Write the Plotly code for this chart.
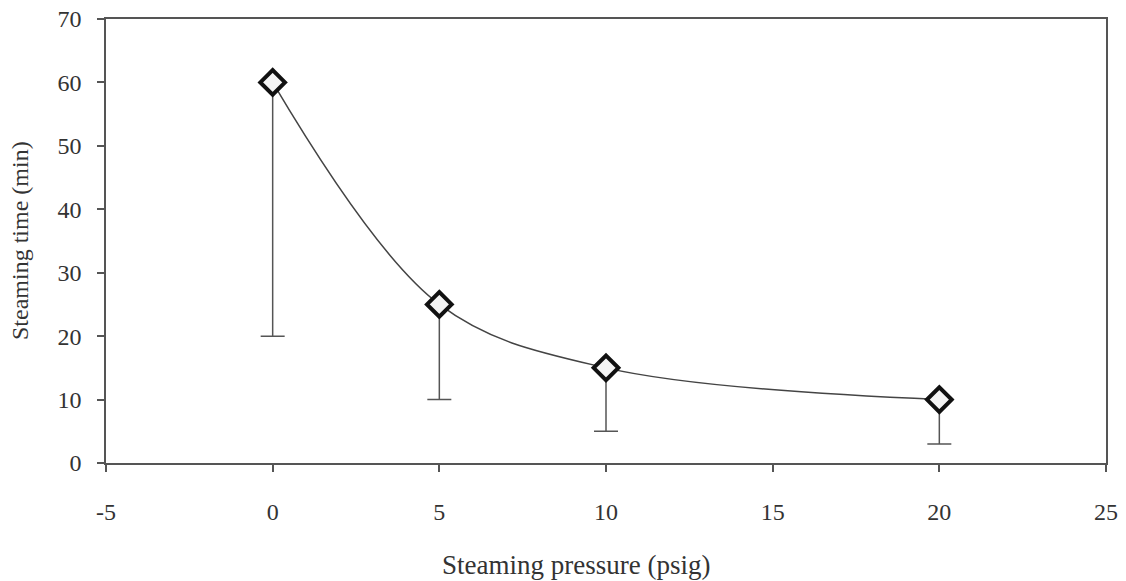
import plotly.graph_objects as go

pressure = [0, 5, 10, 20]
steam_time = [60, 25, 15, 10]
err_minus = [40, 15, 10, 7]
err_plus = [0, 0, 0, 0]

x_ticks = [-5, 0, 5, 10, 15, 20, 25]
y_ticks = [0, 10, 20, 30, 40, 50, 60, 70]

font_family = "Liberation Serif, Times New Roman, serif"

fig = go.Figure()
fig.add_trace(go.Scatter(
    x=pressure, y=steam_time,
    mode="lines+markers",
    line=dict(shape="spline", smoothing=1.0, color="#444444", width=1.5),
    marker=dict(symbol="diamond", size=19, color="#f4f4f4",
                line=dict(width=4, color="#111111")),
    error_y=dict(type="data", symmetric=False, array=err_plus,
                 arrayminus=err_minus, color="#555555", thickness=1.5, width=12),
    showlegend=False,
))

fig.update_layout(
    width=1126, height=581,
    margin=dict(l=106, r=20, t=19, b=118, autoexpand=False),
    paper_bgcolor="white", plot_bgcolor="white",
    font=dict(family=font_family, color="#333333"),
)
fig.update_xaxes(
    range=[-5, 25], tickvals=x_ticks, ticktext=[str(v) for v in x_ticks],
    showgrid=False, zeroline=False,
    showline=True, linecolor="#555555", linewidth=1.5, mirror=True,
    ticks="outside", ticklen=7, tickcolor="#555555", tickwidth=1.5,
    tickfont=dict(size=24, family=font_family, color="#333333"),
    ticklabelstandoff=19,
)
fig.update_yaxes(
    range=[0, 70], tickvals=y_ticks, ticktext=[str(v) for v in y_ticks],
    showgrid=False, zeroline=False,
    showline=True, linecolor="#555555", linewidth=1.5, mirror=True,
    ticks="outside", ticklen=7, tickcolor="#555555", tickwidth=1.5,
    tickfont=dict(size=24, family=font_family, color="#333333"),
    ticklabelstandoff=11,
)
fig.add_annotation(
    text="Steaming pressure (psig)", xref="paper", yref="paper",
    x=0.47, y=-0.229, yanchor="middle", xanchor="center", showarrow=False,
    font=dict(size=27, family=font_family, color="#333333"),
)
fig.add_annotation(
    text="Steaming time (min)", xref="paper", yref="paper",
    x=-0.086, y=0.5, xanchor="center", yanchor="middle", textangle=-90,
    showarrow=False,
    font=dict(size=24, family=font_family, color="#333333"),
)

fig.write_html(
    "out.html",
    config={"displayModeBar": False},
    post_script="document.body.style.margin='0';document.body.style.overflow='hidden';",
)
